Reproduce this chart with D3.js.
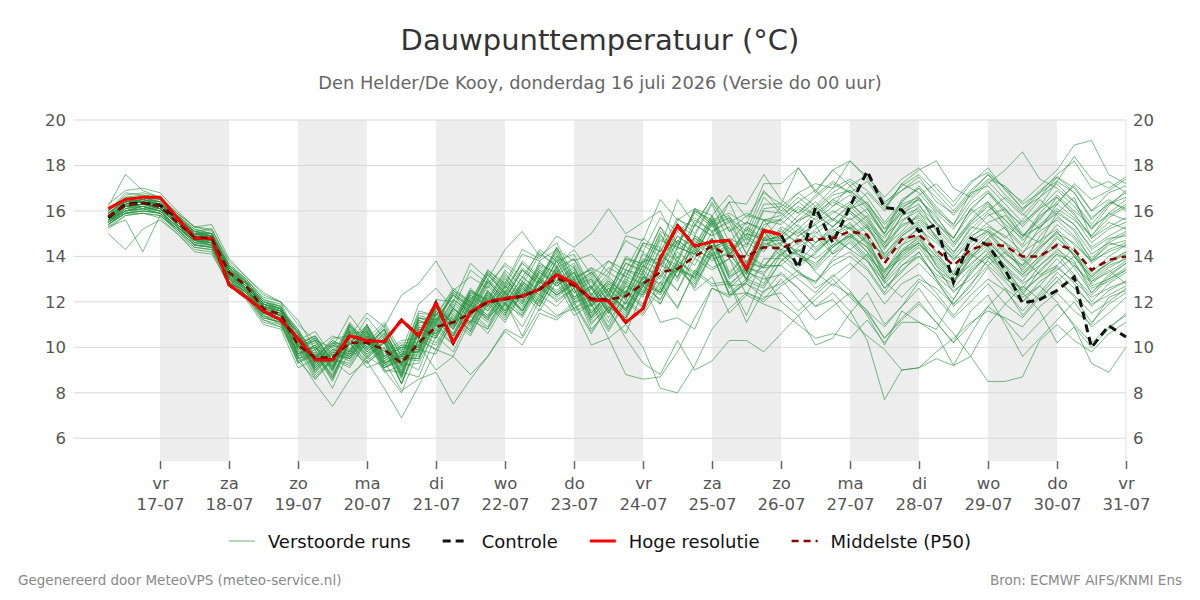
<!DOCTYPE html>
<html>
<head>
<meta charset="utf-8">
<script src="https://cdn.jsdelivr.net/npm/d3@7"></script>
<style>
  body { margin: 0; background: #fff; }
  svg { font-family: "DejaVu Sans", sans-serif; }
</style>
</head>
<body>
<svg id="chart" width="1200" height="600"></svg>
<script>
// forecast: 6-hourly, first value 16-07 06 UTC
const startTime = Date.UTC(2026, 6, 16, 6);
const stepHours = 6;

const hres = [16.1,16.5,16.6, 16.6,15.7,14.8,14.8, 12.75,12.2,11.6,11.2, 10.4,9.45,9.45,10.5, 10.3,10.25,11.2,10.5,
  11.95,10.2,11.55,12.0, 12.15,12.25,12.55,13.2, 12.8,12.1,12.05,11.1, 11.7,13.9,15.35,14.45, 14.65,14.7,13.45,15.15, 14.95];

const control = [15.7,16.3,16.35, 16.25,15.7,14.8,14.8, 12.75,12.2,11.6,11.2, 10.4,9.45,9.45,10.5, 10.3,10.25,11.2,10.5,
  11.95,10.2,11.55,12.0, 12.15,12.25,12.55,13.2, 12.8,12.1,12.05,11.1, 11.7,13.9,15.35,14.45, 14.65,14.7,13.45,15.15,
  14.95,13.5,16.15,14.6, 16.2,17.75,16.15,16.05, 15.1,15.4,12.85,14.8, 14.5,13.4,11.95,12.1, 12.5,13.1,10.0,10.95, 10.45];

const p50 = [15.75,16.25,16.35, 16.2,15.5,14.85,14.8, 13.3,12.7,11.7,11.45, 10.1,9.55,9.55,10.2, 10.2,9.9,9.3,10.2,
  10.9,11.1,11.5,12.0, 12.1,12.25,12.55,13.05, 12.7,12.15,12.1,12.25, 12.8,13.3,13.45,14.0, 14.45,14.0,14.0,14.4,
  14.35,14.7,14.75,14.8, 15.1,14.95,13.7,14.75, 14.95,14.3,13.6,14.3, 14.55,14.45,14.0,14.0, 14.5,14.3,13.4,13.85, 14.0];

const members = [
  [16.0,16.8,16.7, 16.5,15.8,15.2,15.0, 13.6,12.9,12.0,11.7, 10.8,9.6,10.2,10.1, 11.3,10.4,9.5,11.4, 11.2,12.3,11.7,13.0, 12.2,13.4,12.8,14.0, 13.5,12.2,12.9,12.4, 13.9,13.6,15.1,14.5, 15.8,14.3,15.0,14.7, 14.9,15.6,15.9,15.3, 16.1,16.4,15.2,15.9, 16.3,15.1,14.2,15.0, 15.8,16.1,15.0,14.6, 15.9,16.6,14.8,15.5, 15.2],
  [15.4,15.9,16.0, 15.9,15.1,14.4,14.3, 12.9,12.3,11.2,10.9, 9.4,8.6,9.5,9.2, 10.3,9.0,8.9,8.7, 10.5,9.8,11.4,10.6, 11.9,10.9,12.3,11.8, 12.6,10.8,11.6,10.6, 12.5,11.9,13.5,12.7, 14.2,12.3,12.8,12.2, 12.4,11.6,12.3,13.0, 12.2,11.5,10.4,11.3, 12.0,11.1,10.2,11.6, 12.3,11.0,9.6,10.4, 11.2,12.0,10.9,11.5, 12.2],
  [15.9,16.5,16.6, 16.4,15.7,15.1,15.2, 13.7,13.0,12.2,12.0, 11.0,10.3,10.0,11.4, 10.4,11.1,9.8,11.9, 12.6,11.7,13.4,12.8, 13.6,12.9,14.3,13.8, 14.1,12.6,13.5,13.1, 14.6,14.2,15.7,15.0, 16.4,15.1,15.8,15.6, 15.8,16.4,16.9,16.2, 17.1,17.6,16.4,16.9, 17.3,16.6,15.8,16.7, 17.4,17.1,16.3,16.8, 17.6,18.2,17.0,17.3, 16.8],
  [15.0,14.3,15.2, 15.6,15.0,14.2,14.1, 12.8,12.5,11.6,11.2, 9.5,9.8,8.7,10.3, 9.7,10.2,8.4,10.4, 9.9,11.5,10.7,12.3, 11.6,12.6,11.9,13.4, 12.0,12.2,10.9,12.5, 11.7,13.4,12.5,14.2, 13.5,13.9,13.0,14.8, 14.0,14.9,15.4,14.1, 14.6,13.8,12.6,13.4, 14.0,13.2,12.8,13.9, 14.8,15.3,13.9,13.2, 13.6,14.4,12.7,13.0, 13.5],
  [15.6,16.1,16.2, 16.0,15.3,14.7,14.6, 13.1,12.4,11.4,11.0, 9.6,8.4,7.4,8.6, 9.6,9.1,9.4,9.0, 11.0,10.1,11.6,10.9, 12.4,11.5,13.0,12.3, 12.9,11.3,12.6,11.6, 13.1,12.4,14.0,13.0, 14.8,13.2,14.1,13.5, 14.6,15.2,14.3,14.9, 15.5,14.6,13.3,14.5, 14.9,13.6,12.4,13.2, 14.2,13.5,12.8,13.3, 14.1,13.7,12.6,12.9, 13.4],
  [16.2,17.6,16.9, 16.6,15.9,15.0,14.9, 13.5,12.8,11.9,11.6, 10.0,10.3,9.1,10.6, 10.7,9.3,9.6,9.5, 11.6,10.9,12.5,11.8, 13.1,12.0,13.8,12.9, 13.6,12.0,13.0,12.3, 14.2,13.6,14.6,13.9, 15.6,14.0,15.3,14.8, 15.1,14.6,15.5,16.0, 15.6,16.1,14.9,15.6, 16.0,14.8,14.1,15.3, 15.1,14.3,13.6,14.9, 15.7,15.2,14.1,14.6, 15.0],
  [15.3,15.6,14.2, 15.8,15.2,14.5,14.4, 13.0,12.6,11.5,11.3, 10.4,8.9,9.7,9.4, 10.4,9.0,8.0,9.9, 9.7,11.3,10.8,12.2, 11.4,12.9,12.3,13.9, 12.7,13.0,11.6,12.5, 11.9,13.6,13.3,14.9, 14.4,14.7,13.2,15.1, 14.2,13.7,14.1,14.9, 14.3,14.9,13.0,14.1, 14.6,13.4,12.9,14.0, 14.7,13.8,13.1,13.6, 14.3,13.8,12.4,13.1, 13.7],
  [15.7,16.4,16.5, 16.3,15.6,15.0,14.9, 13.4,12.8,11.8,11.6, 10.7,9.5,10.4,10.5, 11.5,10.9,12.3,12.8, 13.8,12.5,13.1,12.6, 13.7,13.1,14.2,13.5, 13.9,12.6,13.8,13.4, 14.8,14.2,15.4,14.9, 16.3,14.6,15.5,15.2, 16.2,16.8,16.2,17.0, 17.4,16.9,16.1,17.2, 16.8,15.9,15.2,16.3, 16.9,16.0,15.4,16.2, 17.3,16.8,15.6,16.4, 16.1],
  [15.5,16.0,16.1, 16.1,15.4,14.7,14.5, 13.1,12.5,11.5,11.3, 9.5,9.7,8.8,10.2, 9.1,9.4,8.1,8.6, 8.9,7.5,8.6,9.6, 10.8,10.4,11.7,11.3, 12.0,10.7,11.8,11.3, 12.8,12.4,13.7,12.6, 14.1,12.4,13.0,12.7, 13.8,14.4,14.9,14.1, 14.8,15.3,14.1,14.9, 15.4,14.2,13.2,14.4, 15.1,14.6,14.1,15.3, 15.9,15.4,14.3,14.8, 14.9],
  [16.3,16.9,17.0, 16.8,16.0,15.3,15.4, 13.9,13.1,12.4,12.0, 11.2,9.9,10.5,10.2, 11.0,9.6,10.0,9.9, 11.8,10.9,12.4,12.1, 13.3,12.2,13.6,13.3, 13.9,12.3,13.1,12.4, 13.8,13.9,15.6,15.3, 16.6,15.1,15.5,15.1, 15.0,15.8,16.4,15.6, 16.3,15.7,14.5,15.8, 16.6,15.5,14.8,16.1, 15.4,14.8,15.6,16.5, 15.8,15.1,13.8,14.6, 14.4],
  [15.2,15.8,15.9, 15.7,15.0,14.3,14.2, 12.7,12.1,11.0,10.8, 9.1,9.5,8.2,9.9, 9.3,9.9,8.4,10.4, 10.1,11.2,10.6,11.9, 11.1,12.4,11.8,13.2, 11.7,12.1,10.8,12.1, 11.5,12.9,11.7,13.4, 12.8,12.9,11.4,13.2, 12.0,11.4,12.1,12.8, 12.3,11.6,10.9,11.8, 12.6,11.5,10.6,9.6, 8.5,8.5,8.7,10.3, 11.0,10.3,9.8,10.6, 11.1],
  [15.8,16.2,16.3, 16.2,15.5,14.8,14.7, 13.2,12.6,11.7,11.4, 10.5,9.2,9.9,9.7, 10.8,9.5,10.0,10.1, 11.8,11.0,12.3,11.7, 12.7,12.0,13.4,12.7, 13.3,11.8,12.6,11.9, 13.4,12.7,13.5,13.1, 14.4,12.6,13.3,13.0, 13.2,12.6,11.8,12.4, 11.6,10.3,7.7,9.0, 9.1,9.5,9.2,10.6, 11.8,12.6,12.0,12.9, 13.4,14.0,13.1,13.8, 14.2],
  [16.1,16.6,16.6, 16.5,15.9,15.3,15.1, 13.6,13.0,12.1,11.9, 10.2,10.5,9.4,11.0, 9.9,10.6,9.2,11.1, 11.0,12.4,11.8,13.2, 12.4,13.8,13.1,14.2, 12.8,13.3,12.4,13.9, 13.5,15.0,13.7,15.4, 14.9,16.4,14.7,16.3, 16.3,15.9,16.6,17.2, 16.8,17.3,16.2,16.9, 17.5,16.4,15.9,16.8, 17.6,17.0,16.4,17.1, 17.8,18.9,19.1,17.6, 17.2],
  [15.5,16.2,16.3, 16.1,15.4,14.8,14.8, 13.2,12.6,11.6,11.4, 10.4,9.1,9.8,9.6, 10.6,9.2,9.6,9.7, 11.3,10.5,11.9,11.3, 12.0,10.5,12.1,11.4, 11.7,10.1,10.4,8.8, 8.6,8.7,9.8,11.3, 12.6,12.2,12.9,13.6, 14.3,14.1,13.4,14.2, 14.9,15.4,14.0,14.7, 15.2,14.6,13.9,14.1, 13.6,14.2,13.5,14.4, 15.0,14.6,13.8,14.2, 14.5],
  [15.6,16.0,16.2, 16.0,15.3,14.6,14.6, 13.0,12.3,11.4,11.1, 9.4,9.7,8.6,10.4, 9.5,10.3,8.7,10.8, 10.6,11.7,11.1,12.5, 11.5,12.7,11.8,13.1, 11.6,11.9,10.4,11.0, 10.0,8.2,8.0,9.2, 10.8,11.7,12.4,12.0, 12.7,13.2,12.9,13.8, 14.2,13.5,12.4,13.6, 14.0,13.1,12.5,13.0, 13.8,13.0,12.6,13.6, 14.2,13.6,12.9,13.3, 13.8],
  [15.4,15.9,15.9, 15.8,15.2,14.5,14.4, 12.9,12.4,11.3,11.1, 10.1,8.8,9.5,9.1, 10.3,8.9,9.2,9.3, 10.8,10.1,11.7,11.1, 11.9,11.4,12.9,12.3, 12.8,11.1,11.7,10.4, 9.3,8.8,10.3,9.0, 9.4,10.3,10.3,9.8, 10.6,11.4,10.1,10.4, 11.5,12.4,11.0,11.8, 12.9,12.2,11.3,12.0, 12.8,11.9,11.3,12.2, 12.9,12.3,11.5,12.0, 12.6],
  [15.9,16.4,16.5, 16.4,15.6,15.0,14.9, 13.4,12.8,11.9,11.7, 10.0,10.4,9.3,11.0, 10.2,10.9,9.6,11.6, 11.4,12.6,12.0,13.4, 12.8,14.3,13.9,14.9, 14.4,15.0,16.1,15.0, 15.5,16.0,14.5,15.9, 15.3,15.7,14.1,15.6, 14.7,14.2,15.0,15.6, 16.2,15.5,14.8,16.0, 16.5,15.8,14.6,15.5, 16.3,15.4,14.8,15.9, 16.7,16.0,15.3,15.8, 16.3],
  [15.7,16.3,16.5, 16.3,15.5,14.9,14.8, 13.3,12.7,11.8,11.6, 10.6,9.3,10.1,9.8, 10.9,9.8,10.3,10.4, 12.1,12.0,13.7,13.0, 14.3,15.1,14.0,14.6, 13.1,13.4,12.2,13.7, 13.3,14.8,14.3,14.8, 14.3,14.8,14.4,16.0, 15.9,15.3,14.6,15.3, 15.9,15.2,14.3,15.4, 15.7,14.9,14.0,14.9, 15.3,14.9,14.2,14.7, 15.2,14.5,13.8,14.5, 14.7],
  [15.8,16.2,16.3, 16.2,15.5,15.0,14.7, 13.2,12.7,11.8,11.5, 9.6,10.1,9.1,10.7, 9.8,10.5,8.9,10.9, 10.5,11.8,11.0,12.4, 11.7,12.9,12.3,13.5, 12.1,12.7,11.9,13.3, 12.7,14.4,13.0,14.8, 14.3,14.6,12.9,14.5, 14.8,15.4,14.6,15.1, 15.7,15.0,13.9,14.5, 15.3,14.1,13.3,14.7, 15.1,14.2,13.4,14.3, 15.1,14.0,13.1,13.7, 14.2],
  [15.5,15.9,16.1, 15.9,15.2,14.5,14.5, 12.9,12.2,11.1,10.9, 9.9,8.6,9.4,8.8, 9.4,8.2,6.9,8.3, 9.9,9.6,11.2,10.8, 12.3,11.6,12.7,12.2, 12.8,11.3,12.1,11.4, 12.9,12.3,13.6,13.0, 14.4,12.7,13.5,13.3, 14.1,14.6,15.1,14.4, 15.0,14.2,13.0,14.2, 14.6,13.8,13.0,13.6, 14.4,13.6,12.9,13.9, 14.8,14.1,13.0,13.6, 13.9],
  [16.0,16.6,16.7, 16.6,15.9,15.3,15.2, 13.8,13.1,12.3,12.0, 10.3,10.7,9.6,11.1, 10.2,11.0,9.6,11.5, 11.4,12.5,11.9,13.3, 12.6,13.7,13.0,14.4, 12.9,13.5,13.1,14.9, 14.7,16.5,15.6,16.1, 15.8,16.7,15.7,16.8, 16.3,17.9,16.9,17.8, 18.2,17.5,16.6,17.4, 17.9,17.0,16.2,17.2, 17.9,16.9,16.1,16.6, 17.2,16.4,15.4,16.3, 16.8],
  [15.3,15.8,15.9, 15.8,15.1,14.4,14.3, 12.8,12.2,11.2,11.0, 10.1,8.7,9.5,9.3, 10.4,9.1,9.6,9.5, 11.0,10.3,11.5,10.8, 12.0,11.3,12.6,12.1, 12.6,11.0,11.9,11.3, 12.8,11.1,11.3,10.8, 12.6,12.3,12.4,12.1, 13.0,12.1,11.2,11.8, 12.4,11.6,10.4,11.2, 11.9,11.1,10.2,11.0, 11.8,11.2,10.3,11.1, 11.9,11.0,10.2,10.9, 11.4],
  [15.9,16.4,16.4, 16.3,15.6,14.9,14.8, 13.3,12.8,11.8,11.5, 9.8,10.0,9.0,10.8, 9.9,10.6,9.0,11.1, 11.1,12.3,11.5,12.9, 12.1,13.4,12.8,14.3, 12.7,13.3,12.4,14.0, 13.6,15.3,13.9,15.6, 15.1,15.5,14.1,15.6, 15.4,16.1,15.6,16.2, 16.7,15.9,15.0,16.3, 16.6,15.4,14.8,16.1, 16.8,15.9,14.9,15.7, 16.4,17.1,16.0,16.5, 16.0],
  [15.6,16.2,16.3, 16.1,15.4,14.8,14.6, 13.2,12.5,11.6,11.4, 10.4,9.1,9.9,9.7, 10.7,9.4,9.8,9.8, 11.6,10.8,12.2,11.6, 12.6,11.8,13.0,12.5, 13.1,11.6,12.3,11.7, 13.1,12.8,14.2,13.6, 15.1,13.3,14.1,13.6, 13.6,13.0,12.4,13.2, 12.5,11.4,10.1,11.6, 11.1,10.6,9.2,9.6, 11.0,11.9,12.7,12.1, 12.9,13.6,12.8,13.4, 12.8],
  [16.0,16.7,16.8, 16.6,15.8,15.1,15.0, 13.5,12.9,12.0,11.8, 10.1,10.5,9.4,11.0, 10.1,10.8,9.3,11.3, 11.2,12.4,11.8,13.2, 12.3,13.5,12.9,14.4, 13.0,13.5,12.4,13.9, 13.7,15.3,14.4,16.1, 15.5,15.8,14.5,16.1, 16.2,15.5,16.1,16.8, 17.3,16.6,15.5,16.4, 17.1,16.2,15.4,16.5, 17.2,17.8,18.6,17.4, 17.0,16.4,15.2,16.2, 16.9],
  [15.4,16.0,16.2, 16.0,15.3,14.6,14.5, 13.0,12.4,11.5,11.2, 10.3,9.0,9.7,9.5, 10.5,9.1,9.5,9.4, 11.2,10.4,11.9,11.2, 12.4,11.7,13.1,12.4, 13.0,11.5,12.4,11.7, 13.2,12.6,14.4,14.1, 14.8,13.1,13.5,13.2, 14.2,13.3,12.8,13.9, 14.7,13.9,12.6,13.3, 14.2,13.0,11.8,12.5, 13.5,12.6,11.4,12.3, 13.1,12.2,11.1,11.9, 12.4],
  [15.8,16.5,16.4, 16.3,15.7,15.1,14.9, 13.4,12.9,11.9,11.7, 10.0,10.3,9.2,10.8, 10.0,10.8,9.2,11.2, 10.8,12.1,11.6,13.0, 11.9,13.1,12.5,13.8, 12.4,12.9,11.7,13.1, 12.8,14.3,13.8,15.4, 14.9,15.3,13.7,15.4, 15.6,16.2,15.8,15.3, 16.0,15.4,14.6,15.8, 16.1,15.2,14.4,15.5, 16.2,15.6,14.7,15.4, 16.1,15.6,14.9,15.9, 15.6],
  [15.5,16.1,16.2, 16.0,15.3,14.7,14.5, 13.0,12.4,11.5,11.3, 10.3,9.0,9.8,9.5, 10.5,9.2,9.7,9.6, 11.1,10.5,11.8,11.2, 12.2,11.4,12.7,12.0, 12.6,11.2,12.0,11.3, 12.7,12.1,13.6,12.9, 14.3,12.8,13.4,12.8, 14.1,13.5,14.2,14.8, 14.3,13.8,12.9,13.8, 14.4,13.4,12.6,13.5, 14.1,13.4,12.5,13.1, 13.9,13.1,12.3,13.0, 13.4],
  [15.8,16.3,16.5, 16.3,15.6,15.0,14.9, 13.3,12.8,11.9,11.6, 9.9,10.2,9.1,10.7, 9.9,10.6,9.1,11.0, 10.7,12.0,11.4,12.8, 11.9,13.1,12.4,13.8, 12.4,13.0,12.0,13.4, 13.0,14.7,14.4,16.0, 15.6,15.9,15.4,17.2, 17.2,17.9,16.8,17.8, 17.1,16.3,15.2,16.4, 17.0,16.1,15.3,16.0, 16.8,16.1,15.3,16.1, 16.9,16.2,15.2,15.9, 16.5],
  [15.6,16.0,16.1, 16.0,15.3,14.7,14.6, 13.1,12.5,11.5,11.2, 10.2,8.9,9.7,9.5, 10.5,9.1,9.5,9.5, 11.3,10.6,12.0,11.3, 12.5,11.6,12.9,12.3, 12.8,11.3,12.2,11.5, 12.9,12.4,13.7,12.5, 13.1,11.5,12.3,11.9, 11.6,11.0,10.4,10.6, 10.4,11.2,10.2,11.1, 11.1,10.8,12.1,13.4, 14.0,13.3,12.4,13.1, 13.5,12.9,12.2,12.6, 12.9],
  [15.7,16.4,16.4, 16.2,15.5,14.9,14.8, 13.3,12.6,11.7,11.5, 9.7,10.0,9.0,10.7, 9.8,10.4,8.8,10.7, 10.4,11.7,11.1,12.5, 11.6,12.8,12.1,13.6, 12.2,12.7,11.5,12.9, 12.4,13.9,13.1,14.7, 14.1,14.5,13.7,15.2, 14.5,15.2,15.9,16.5, 16.1,16.8,16.0,17.2, 17.8,18.2,17.0,16.6, 17.3,16.5,15.8,16.6, 17.5,16.8,15.7,16.3, 16.6],
  [15.6,16.3,16.4, 16.1,15.5,14.8,14.7, 13.2,12.7,11.7,11.4, 10.5,9.1,10.0,9.6, 10.7,9.3,9.8,9.8, 11.5,10.6,12.0,11.4, 12.5,11.6,13.0,12.4, 13.0,11.5,12.4,11.6, 13.1,12.5,13.8,13.2, 14.8,13.0,13.7,13.5, 13.6,14.3,13.3,12.7, 13.4,14.1,12.8,13.6, 14.2,13.0,12.1,13.3, 14.0,13.1,12.3,13.4, 14.1,13.2,12.0,12.8, 13.3],
  [15.7,16.2,16.3, 16.1,15.4,14.8,14.7, 13.2,12.6,11.6,11.4, 9.7,10.1,9.0,10.7, 9.8,10.4,8.9,10.9, 10.6,11.9,11.3,12.7, 11.8,12.9,12.2,13.6, 12.2,12.7,11.6,13.0, 12.5,14.1,13.4,14.9, 14.4,14.7,13.4,15.1, 14.3,13.7,14.6,15.2, 14.8,14.0,13.3,14.3, 14.8,13.6,12.9,13.7, 14.3,13.1,12.2,12.7, 12.0,10.9,9.3,8.9, 10.0],
  [15.9,16.4,16.5, 16.4,15.6,15.1,14.9, 13.5,12.8,11.9,11.7, 10.7,9.5,10.3,9.9, 11.0,9.6,10.1,10.1, 11.9,11.2,12.6,11.9, 13.0,12.3,13.6,12.9, 13.5,12.0,12.9,12.3, 14.1,13.6,14.9,14.3, 15.6,14.1,14.8,14.3, 15.3,14.9,15.4,15.9, 16.4,15.6,14.4,15.1, 15.9,15.3,14.5,15.4, 16.0,16.6,15.9,15.2, 16.3,17.2,16.5,16.9, 17.4],
  [15.4,15.9,16.0, 15.9,15.2,14.5,14.4, 12.9,12.3,11.3,11.1, 9.3,9.8,8.6,10.2, 9.4,10.0,8.4,10.1, 9.0,9.6,8.8,9.6, 10.7,10.1,11.5,11.2, 11.9,10.6,11.8,11.2, 12.7,12.1,13.4,12.8, 14.1,12.3,12.9,12.6, 13.8,14.3,13.9,14.5, 14.9,14.4,13.4,14.2, 14.7,14.0,13.2,14.0, 14.6,13.9,13.2,13.8, 14.6,14.1,13.2,13.7, 14.1],
  [15.8,16.5,16.6, 16.3,15.7,15.0,15.0, 13.6,12.9,12.0,11.8, 10.0,10.4,9.4,10.9, 10.0,10.8,9.3,11.3, 11.1,12.5,12.0,13.4, 12.7,14.1,13.8,14.3, 13.8,14.1,13.3,14.7, 14.2,15.7,15.1,15.7, 15.1,15.6,14.9,16.6, 15.9,16.6,16.0,16.7, 16.9,16.3,15.4,16.2, 16.5,15.7,14.8,15.9, 16.4,15.3,14.5,15.8, 16.3,15.7,14.6,15.2, 15.5],
  [15.5,16.0,16.1, 15.9,15.3,14.6,14.5, 13.0,12.4,11.4,11.2, 10.3,9.0,9.8,9.5, 10.6,9.3,9.7,9.8, 11.4,10.5,11.8,11.3, 12.4,11.6,12.9,12.3, 12.9,11.4,12.3,11.6, 13.0,12.4,13.8,13.3, 14.7,12.7,12.8,12.4, 13.3,12.6,11.8,12.1, 11.2,10.5,9.9,9.0, 9.1,9.8,10.4,11.1, 11.6,11.3,10.9,11.8, 12.4,11.6,11.0,12.2, 12.5],
  [15.9,16.5,16.6, 16.5,15.8,15.2,15.0, 13.6,13.0,12.1,11.8, 10.1,10.5,9.4,11.0, 10.1,10.8,9.3,11.3, 11.0,12.3,11.8,13.3, 12.4,13.7,13.0,14.1, 12.7,13.2,12.3,13.7, 13.4,15.1,14.6,16.0, 15.4,16.4,16.3,17.6, 16.5,15.9,16.7,17.3, 16.8,16.1,15.0,16.5, 17.0,16.0,15.4,16.8, 17.1,16.3,15.5,16.1, 16.6,15.8,14.9,15.7, 16.2],
  [15.6,16.1,16.3, 16.2,15.5,14.8,14.6, 13.1,12.5,11.6,11.4, 10.4,9.1,9.9,9.6, 10.6,9.3,9.7,9.8, 11.5,10.8,12.1,11.4, 12.7,11.9,13.3,12.7, 13.3,11.8,12.6,11.9, 13.3,11.9,13.4,13.1, 14.7,13.1,13.8,13.5, 14.5,14.0,13.5,14.4, 15.0,14.4,12.9,12.2, 13.0,12.6,11.9,12.7, 13.9,14.6,13.3,14.0, 14.4,13.5,12.4,13.2, 13.7],
  [15.9,16.4,16.6, 16.4,15.7,15.1,14.9, 13.5,12.8,11.9,11.7, 9.9,10.3,9.2,10.9, 10.0,10.7,9.2,11.2, 10.9,12.1,11.5,12.9, 12.1,13.4,12.7,14.0, 12.6,13.1,12.0,13.4, 13.2,14.9,14.4,16.1, 15.4,15.7,15.1,16.9, 16.0,16.8,17.2,17.0, 18.2,17.4,16.3,17.1, 17.6,16.8,16.0,16.9, 17.6,16.7,16.0,16.8, 17.3,18.4,17.4,17.0, 17.5],
  [15.7,16.2,16.3, 16.2,15.5,14.8,14.8, 13.2,12.6,11.7,11.5, 10.6,9.2,10.1,9.7, 10.7,9.4,9.9,9.9, 11.7,10.8,12.2,11.6, 12.7,11.9,13.3,12.7, 13.3,11.8,12.8,12.1, 13.6,13.1,14.7,14.2, 15.7,14.1,14.9,14.4, 14.6,15.1,14.4,15.0, 15.4,14.8,13.9,14.9, 15.5,14.7,13.9,14.6, 15.2,14.6,13.8,14.5, 15.4,14.8,13.7,14.3, 14.6],
  [15.4,15.9,16.0, 15.9,15.2,14.5,14.4, 12.9,12.3,11.3,11.1, 9.3,9.7,8.5,10.2, 9.3,10.0,8.4,10.3, 9.9,11.1,10.5,12.0, 11.2,12.4,11.6,12.9, 11.4,11.9,10.7,12.0, 11.4,12.6,11.8,13.3, 12.7,12.8,11.1,12.5, 12.8,13.4,12.6,13.1, 13.7,13.0,11.9,12.8, 13.2,12.4,11.4,12.3, 13.0,12.5,11.6,12.4, 13.3,12.6,11.9,12.3, 12.7],
  [15.8,16.3,16.4, 16.3,15.6,15.0,14.8, 13.4,12.7,11.8,11.6, 10.7,9.4,10.2,9.8, 10.9,9.5,10.0,9.9, 11.7,11.1,12.5,12.1, 13.4,12.7,14.1,13.6, 14.3,13.2,13.8,13.1, 14.5,14.0,14.7,14.1, 15.5,13.9,14.6,14.2, 15.2,14.5,15.2,15.7, 15.2,14.6,14.1,15.0, 15.6,14.8,13.8,14.8, 15.5,15.8,14.9,15.3, 16.0,15.4,14.4,14.9, 15.3],
  [15.5,16.1,16.3, 16.1,15.4,14.8,14.7, 13.1,12.5,11.6,11.4, 9.6,9.9,8.9,10.5, 9.6,10.2,8.7,10.8, 10.5,11.6,10.9,12.3, 11.4,12.6,12.0,13.3, 11.9,12.4,11.3,12.7, 12.3,14.0,13.6,14.3, 13.9,14.1,13.2,14.8, 14.8,14.1,13.6,14.5, 15.3,14.7,13.4,13.9, 14.5,13.9,13.1,14.2, 15.0,14.1,13.6,14.4, 15.1,14.2,13.3,14.0, 14.5],
  [16.0,16.5,16.6, 16.4,15.7,15.1,15.0, 13.5,12.9,12.0,11.7, 10.8,9.5,10.3,9.9, 11.0,9.7,10.2,10.2, 11.8,11.1,12.5,12.0, 13.2,12.4,13.7,13.2, 13.7,12.3,13.3,12.8, 14.6,14.4,16.5,15.4, 16.6,15.5,15.9,15.6, 15.6,15.0,15.7,16.4, 16.0,15.3,14.4,15.5, 16.2,15.5,14.6,15.6, 16.4,15.6,14.9,15.6, 16.6,15.9,14.8,15.3, 15.7],
  [15.6,16.2,16.3, 16.1,15.5,14.8,14.7, 13.2,12.6,11.6,11.4, 9.7,10.0,9.0,10.6, 9.7,10.4,8.8,10.8, 10.6,11.7,11.1,12.5, 11.6,12.8,12.1,13.5, 12.1,12.6,11.5,12.8, 12.3,13.8,13.1,14.6, 14.0,14.4,13.0,14.7, 14.7,14.1,13.7,14.4, 14.9,14.2,13.1,14.0, 14.6,13.7,12.9,13.9, 14.5,13.6,12.4,11.6, 10.2,10.9,10.0,10.8, 11.5],
  [15.7,16.4,16.5, 16.2,15.6,14.9,14.8, 13.3,12.8,11.8,11.6, 10.6,9.3,10.1,9.8, 10.8,9.5,10.0,10.0, 11.9,11.0,12.4,11.8, 12.8,12.1,13.4,12.8, 13.3,11.9,12.7,12.1, 13.6,13.0,14.4,14.1, 15.4,14.0,15.2,14.7, 14.9,15.6,16.2,15.6, 15.2,15.8,14.6,15.3, 15.8,14.9,14.2,15.2, 15.9,15.2,14.4,15.1, 15.6,14.9,13.9,14.7, 15.1],
  [15.5,16.0,16.2, 16.0,15.3,14.7,14.6, 13.0,12.4,11.5,11.3, 9.5,9.9,8.7,10.4, 9.5,10.2,8.6,10.6, 10.2,11.4,10.7,12.1, 11.3,12.5,11.8,13.2, 11.7,12.3,11.1,12.4, 11.8,13.2,12.5,13.9, 13.4,13.9,12.3,13.9, 13.9,13.3,12.9,13.6, 14.0,13.4,12.3,13.1, 13.7,12.9,11.9,12.8, 13.6,12.9,12.0,12.7, 13.6,12.8,11.8,12.5, 12.9],
  [15.8,16.3,16.4, 16.3,15.6,15.0,14.8, 13.3,12.7,11.8,11.6, 10.6,9.3,10.2,9.8, 10.9,9.6,10.1,10.0, 11.8,11.0,12.3,11.8, 12.9,12.2,13.5,12.8, 13.4,11.9,12.8,12.2, 13.8,13.4,14.9,14.4, 15.8,14.2,15.0,14.8, 15.7,16.4,15.8,16.5, 16.9,16.2,15.0,16.1, 16.7,17.2,16.4,17.3, 17.7,17.0,16.1,16.9, 17.5,17.0,16.0,16.8, 17.1],
  [15.6,16.2,16.2, 16.1,15.4,14.7,14.7, 13.1,12.6,11.6,11.4, 9.7,10.1,9.0,10.6, 9.6,10.3,8.7,10.7, 10.4,11.7,11.0,12.4, 11.5,12.7,12.0,13.4, 12.0,12.6,11.5,12.7, 12.2,13.7,12.9,14.4, 13.8,14.2,13.0,14.6, 14.3,14.8,14.2,14.9, 15.3,14.5,13.2,14.2, 14.9,14.0,13.2,14.1, 14.8,13.9,13.2,14.0, 14.9,14.0,12.9,13.5, 13.9]
];

const dayNames = ["zo", "ma", "di", "wo", "do", "vr", "za"];
const yTicks = [6, 8, 10, 12, 14, 16, 18, 20];
const firstTickDay = Date.UTC(2026, 6, 17);
const lastTickDay = Date.UTC(2026, 6, 31);
const shadedDays = [17, 19, 21, 23, 25, 27, 29];

const legendItems = [
  { label: "Verstoorde runs", color: "#7cc08a", width: 1.2, dash: null },
  { label: "Controle", color: "#111111", width: 3, dash: "8,5" },
  { label: "Hoge resolutie", color: "#ff0000", width: 3, dash: null },
  { label: "Middelste (P50)", color: "#8b0000", width: 2.5, dash: "7,5" }
];

const svg = d3.select("#chart");
const plot = { left: 74, right: 1126, top: 120, bottom: 461 };

const timeAt = i => new Date(startTime + i * stepHours * 3600 * 1000);

const x = d3.scaleUtc()
  .domain([new Date(Date.UTC(2026, 6, 15, 18)), new Date(lastTickDay)])
  .range([73.75, plot.right]);
const y = d3.scaleLinear().domain([5, 20]).range([plot.bottom, plot.top]);

// alternating day shading
svg.append("g").selectAll("rect")
  .data(shadedDays)
  .join("rect")
  .attr("x", d => x(new Date(Date.UTC(2026, 6, d))))
  .attr("width", d => x(new Date(Date.UTC(2026, 6, d + 1))) - x(new Date(Date.UTC(2026, 6, d))))
  .attr("y", plot.top)
  .attr("height", plot.bottom - plot.top)
  .attr("fill", "#ededed");

// horizontal grid
svg.append("g").selectAll("line")
  .data(yTicks)
  .join("line")
  .attr("x1", plot.left).attr("x2", plot.right)
  .attr("y1", d => y(d)).attr("y2", d => y(d))
  .attr("stroke", "#d9d9d9").attr("stroke-width", 1);

svg.append("line")
  .attr("x1", plot.right).attr("x2", plot.right)
  .attr("y1", plot.top).attr("y2", plot.bottom)
  .attr("stroke", "#e2e2e2");

// y labels both sides
const yLeft = svg.append("g").attr("transform", `translate(${plot.left},0)`)
  .call(d3.axisLeft(y).tickValues(yTicks).tickSize(0).tickPadding(8));
const yRight = svg.append("g").attr("transform", `translate(${plot.right},0)`)
  .call(d3.axisRight(y).tickValues(yTicks).tickSize(0).tickPadding(7));
[yLeft, yRight].forEach(g => {
  g.select(".domain").remove();
  g.selectAll("text").attr("font-size", 16.5).attr("fill", "#555").attr("font-family", "DejaVu Sans");
});

// x axis with two-line labels
const dayTicks = d3.utcDay.range(new Date(firstTickDay), new Date(lastTickDay + 1));
const xAxis = svg.append("g").attr("transform", `translate(0,${plot.bottom})`)
  .call(d3.axisBottom(x).tickValues(dayTicks).tickSize(8).tickFormat(""));
xAxis.select(".domain").remove();
xAxis.selectAll(".tick line").attr("stroke", "#666").attr("stroke-width", 1.5);
xAxis.selectAll(".tick").each(function (d) {
  const t = d3.select(this).append("text")
    .attr("fill", "#555").attr("font-size", 16.5).attr("text-anchor", "middle")
    .attr("font-family", "DejaVu Sans");
  t.append("tspan").attr("x", 0).attr("y", 28).text(dayNames[d.getUTCDay()]);
  t.append("tspan").attr("x", 0).attr("y", 49).text(d3.utcFormat("%d-%m")(d));
});

const line = d3.line().x((d, i) => x(timeAt(i))).y(d => y(d));

// ensemble members
svg.append("g").selectAll("path")
  .data(members)
  .join("path")
  .attr("d", line)
  .attr("fill", "none")
  .attr("stroke", "#27913f")
  .attr("stroke-opacity", 0.62)
  .attr("stroke-width", 1);

svg.append("path").datum(control).attr("d", line)
  .attr("fill", "none").attr("stroke", "#111").attr("stroke-width", 3)
  .attr("stroke-dasharray", "8,5");

svg.append("path").datum(hres).attr("d", line)
  .attr("fill", "none").attr("stroke", "#ff0000").attr("stroke-width", 3)
  .attr("stroke-linejoin", "round");

svg.append("path").datum(p50).attr("d", line)
  .attr("fill", "none").attr("stroke", "#8b0000").attr("stroke-width", 2.5)
  .attr("stroke-dasharray", "7,5");

// titles
svg.append("text").attr("x", 600).attr("y", 50).attr("text-anchor", "middle")
  .attr("font-size", 29).attr("fill", "#333").text("Dauwpunttemperatuur (°C)");
svg.append("text").attr("x", 600).attr("y", 89).attr("text-anchor", "middle")
  .attr("font-size", 17.8).attr("fill", "#666")
  .text("Den Helder/De Kooy, donderdag 16 juli 2026 (Versie do 00 uur)");

// legend, centred
const legend = svg.append("g");
let lx = 0;
legendItems.forEach(it => {
  const g = legend.append("g");
  g.append("line").attr("x1", 0).attr("x2", 26).attr("y1", 0).attr("y2", 0)
    .attr("stroke", it.color).attr("stroke-width", it.width)
    .attr("stroke-dasharray", it.dash);
  const t = g.append("text").attr("x", 39).attr("y", 6.5).attr("font-size", 18)
    .attr("fill", "#111").text(it.label);
  const w = 39 + t.node().getComputedTextLength();
  g.attr("transform", `translate(${lx},0)`);
  lx += w + 32;
});
const legendWidth = lx - 32;
legend.attr("transform", `translate(${600 - legendWidth / 2},541)`);

// footer
svg.append("text").attr("x", 18).attr("y", 585).attr("font-size", 13.5).attr("fill", "#888")
  .text("Gegenereerd door MeteoVPS (meteo-service.nl)");
svg.append("text").attr("x", 1182).attr("y", 585).attr("text-anchor", "end")
  .attr("font-size", 13.5).attr("fill", "#888").text("Bron: ECMWF AIFS/KNMI Ens");
</script>
</body>
</html>
